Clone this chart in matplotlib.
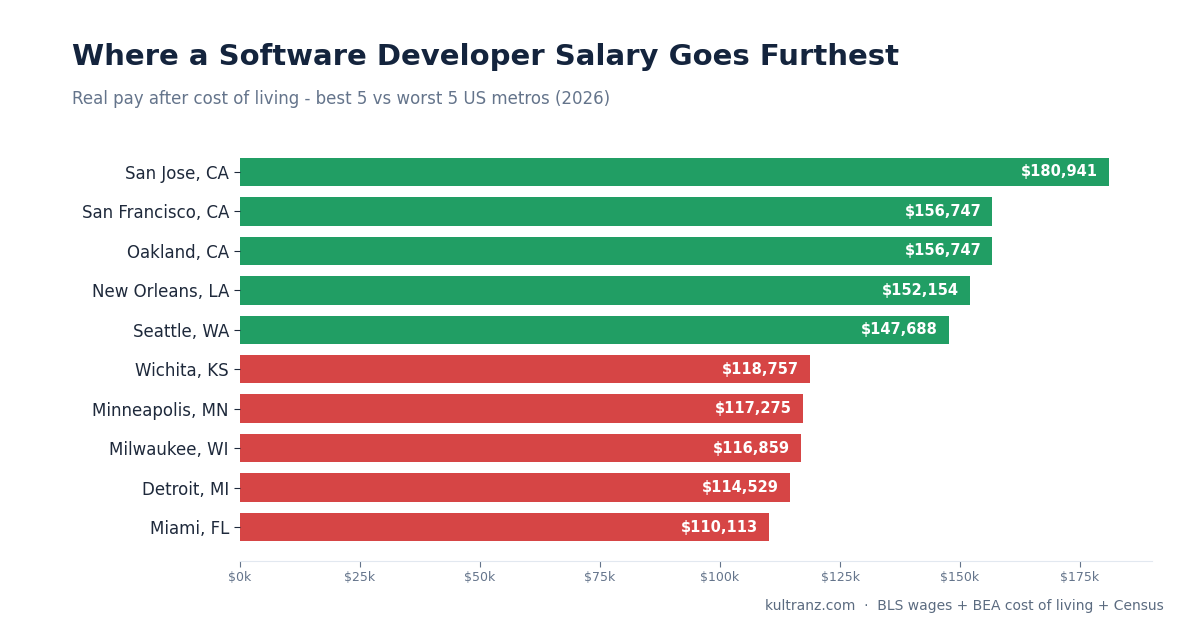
import matplotlib.pyplot as plt
from matplotlib.ticker import FuncFormatter

plt.rcParams['font.family'] = ['DejaVu Sans']

metros = ['San Jose, CA', 'San Francisco, CA', 'Oakland, CA', 'New Orleans, LA', 'Seattle, WA',
          'Wichita, KS', 'Minneapolis, MN', 'Milwaukee, WI', 'Detroit, MI', 'Miami, FL']
real_pay = [180941, 156747, 156747, 152154, 147688,
            118757, 117275, 116859, 114529, 110113]
groups = ['best'] * 5 + ['worst'] * 5

colors = {'best': '#219e64', 'worst': '#d64545'}

fig = plt.figure(figsize=(12, 6.3), dpi=100)
ax = fig.add_axes([0.2, 0.1095, 0.76, 0.6715])

y = list(range(len(metros)))
ax.barh(y, real_pay, height=0.72, color=[colors[g] for g in groups])
ax.set_yticks(y)
ax.set_yticklabels(metros, fontsize=12, color='#1e293b')
ax.set_ylim(len(metros) - 0.14, -0.86)
ax.set_xlim(0, 190000)
ax.set_xticks(range(0, 190000, 25000))
ax.xaxis.set_major_formatter(FuncFormatter(lambda v, p: f'${v/1000:.0f}k'))
ax.tick_params(axis='x', labelsize=9, colors='#64748b', length=4, width=0.8)
ax.tick_params(axis='y', length=4, width=0.8, color='#1e293b', pad=4)

for s in ['top', 'right', 'left']:
    ax.spines[s].set_visible(False)
ax.spines['bottom'].set_color('#e2e8f0')

for i, v in enumerate(real_pay):
    ax.text(v - 2300, i, f'${v:,.0f}', ha='right', va='center',
            color='white', fontsize=10.5, fontweight='bold')

fig.text(0.06, 0.909, 'Where a Software Developer Salary Goes Furthest',
         fontsize=21, fontweight='bold', color='#14243d', ha='left', va='center')
fig.text(0.06, 0.843, 'Real pay after cost of living - best 5 vs worst 5 US metros (2026)',
         fontsize=12, color='#64748b', ha='left', va='center')
fig.text(0.97, 0.038, 'kultranz.com  ·  BLS wages + BEA cost of living + Census',
         fontsize=10, color='#5b6b80', ha='right', va='center')

fig.savefig('out.png', dpi=100, facecolor='white')
plt.close()
